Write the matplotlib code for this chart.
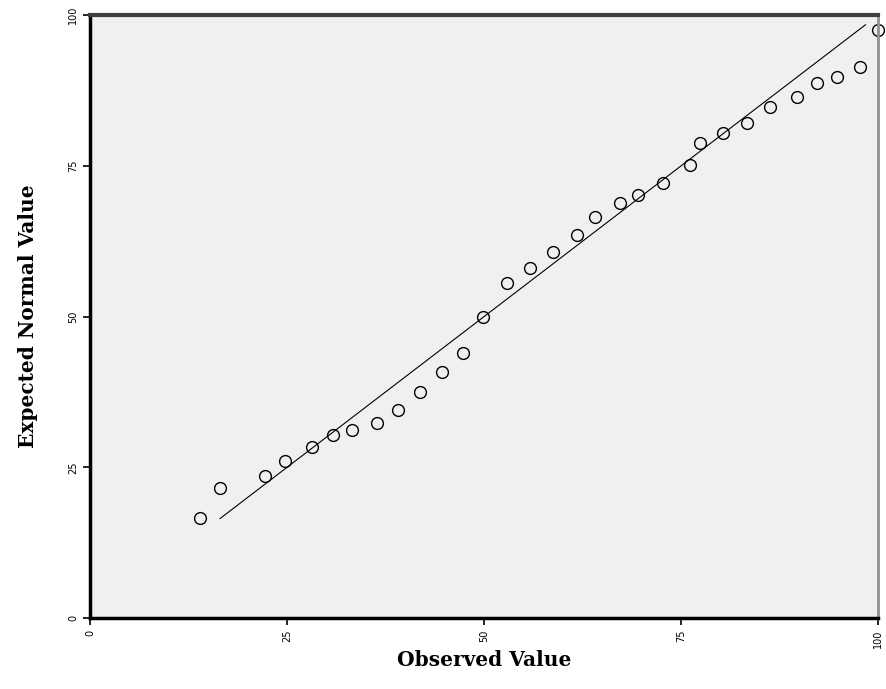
import matplotlib
matplotlib.use("Agg")
import matplotlib.pyplot as plt

observed = [14.0, 16.5, 22.2, 24.7, 28.2, 30.8, 33.2, 36.4, 39.1, 41.9,
            44.7, 47.3, 49.9, 52.9, 55.8, 58.8, 61.8, 64.1, 67.3, 69.5,
            72.7, 76.1, 77.4, 80.3, 83.4, 86.3, 89.7, 92.3, 94.8, 97.7, 100.0]
expected = [16.6, 21.6, 23.5, 26.0, 28.4, 30.3, 31.2, 32.3, 34.5, 37.5,
            40.8, 43.9, 49.9, 55.6, 58.0, 60.7, 63.5, 66.5, 68.8, 70.1,
            72.1, 75.1, 78.8, 80.4, 82.1, 84.7, 86.4, 88.7, 89.7, 91.4, 97.5]
# reference line y = x
line_x = [16.5, 98.4]
ticks = [0, 25, 50, 75, 100]

fig = plt.figure(figsize=(8.87, 6.89), dpi=100)
ax = fig.add_axes([0.1015, 0.103, 0.8884, 0.875])
ax.set_facecolor('#f0f0f0')

ax.plot(line_x, line_x, color='black', lw=0.8)
ax.plot(observed, expected, 'o', mfc='none', mec='black', mew=1.0,
        ms=8.5, clip_on=False)

ax.set_xlim(0, 100)
ax.set_ylim(0, 100)
ax.set_xticks(ticks)
ax.set_yticks(ticks)
ax.tick_params(direction='out', length=5, width=1.2, labelsize=7)
for lab in ax.get_xticklabels():
    lab.set_rotation(90)
for lab in ax.get_yticklabels():
    lab.set_rotation(90)
    lab.set_va('center')

for side in ['left', 'bottom']:
    ax.spines[side].set_linewidth(2.5)
    ax.spines[side].set_color('black')
ax.spines['top'].set_linewidth(3)
ax.spines['top'].set_color('#404040')
ax.spines['right'].set_linewidth(2)
ax.spines['right'].set_color('#909090')

ax.set_xlabel('Observed Value', fontsize=14.5, fontweight='bold',
              family='DejaVu Serif', va='center')
ax.set_ylabel('Expected Normal Value', fontsize=14.5, fontweight='bold',
              family='DejaVu Serif', va='center')
ax.xaxis.set_label_coords(0.5, -0.07)
ax.yaxis.set_label_coords(-0.079, 0.5)

fig.savefig('out.png', dpi=100)
